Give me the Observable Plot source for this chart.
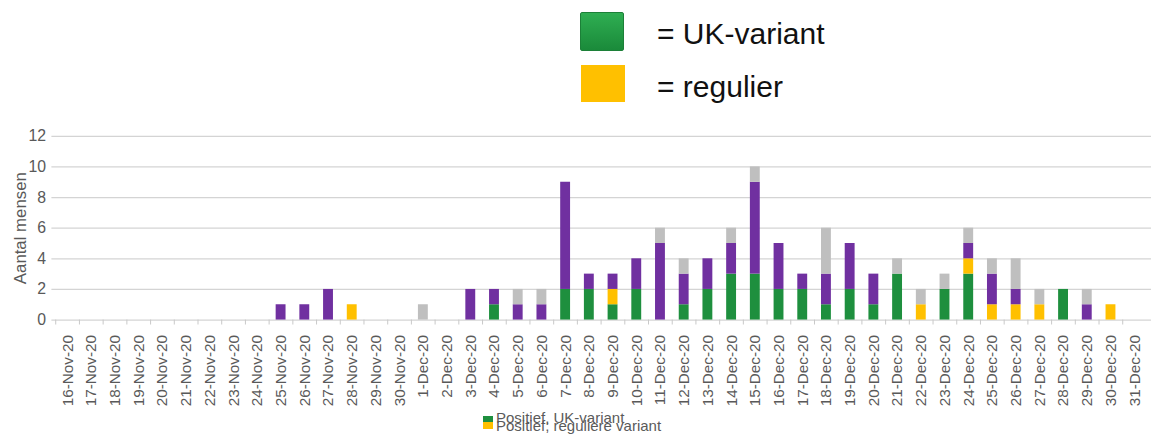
<!DOCTYPE html>
<html>
<head>
<meta charset="utf-8">
<script src="https://cdn.jsdelivr.net/npm/d3@7"></script>
<script src="https://cdn.jsdelivr.net/npm/@observablehq/plot@0.6"></script>
<style>
  html, body { margin: 0; padding: 0; background: #fff; overflow: hidden; }
  body { width: 1151px; height: 435px; position: relative; font-family: "Liberation Sans", Arial, sans-serif; }
  #top-legend { position: absolute; left: 0; top: 0; width: 1151px; height: 120px; }
  .sw { position: absolute; left: 580px; width: 44px; }
  .sw.uk { top: 12px; height: 39px; background: linear-gradient(#2fae52, #1a8a3a); border: 1px solid #1c8038; box-sizing: border-box; border-radius: 2px; }
  .sw.reg { top: 65px; height: 37px; left: 581px; background: #ffc000; }
  .lt { position: absolute; left: 657px; font-size: 30px; color: #111; line-height: 1; }
  #chart { position: absolute; left: 0; top: 120px; }
  #chart svg text { font-family: "Liberation Sans", Arial, sans-serif !important; }
  #chart g[aria-label="x-axis tick label"], #chart g[aria-label="x-axis tick label"] text { font-size: 15.5px !important; }
  #chart g[aria-label="y-axis tick label"], #chart g[aria-label="y-axis tick label"] text { font-size: 16px !important; }
  #chart g[aria-label="y-axis label"], #chart g[aria-label="y-axis label"] text { font-size: 17px !important; }
  #bottom-legend { position: absolute; left: 483px; top: 411px; width: 200px; height: 24px; font-size: 15px; color: #5a5a5a; }
  #bottom-legend .row { position: absolute; left: 13px; white-space: nowrap; line-height: 15px; }
  #bottom-legend .sq { position: absolute; left: 0; width: 10px; }
</style>
</head>
<body>
<div id="top-legend">
  <div class="sw uk"></div>
  <div class="lt" style="top:19px">= UK-variant</div>
  <div class="sw reg"></div>
  <div class="lt" style="top:72px">= regulier</div>
</div>
<div id="chart"></div>
<div id="bottom-legend">
  <div class="sq" style="top:5px;height:6px;background:#1e8f3e"></div>
  <div class="sq" style="top:11px;height:7px;background:#ffc000"></div>
  <div class="row" style="top:-1px">Positief, UK-variant</div>
  <div class="row" style="top:7px">Positief; reguliere variant</div>
</div>
<script>
const dates = [
  "16-Nov-20","17-Nov-20","18-Nov-20","19-Nov-20","20-Nov-20","21-Nov-20","22-Nov-20","23-Nov-20",
  "24-Nov-20","25-Nov-20","26-Nov-20","27-Nov-20","28-Nov-20","29-Nov-20","30-Nov-20",
  "1-Dec-20","2-Dec-20","3-Dec-20","4-Dec-20","5-Dec-20","6-Dec-20","7-Dec-20","8-Dec-20",
  "9-Dec-20","10-Dec-20","11-Dec-20","12-Dec-20","13-Dec-20","14-Dec-20","15-Dec-20","16-Dec-20",
  "17-Dec-20","18-Dec-20","19-Dec-20","20-Dec-20","21-Dec-20","22-Dec-20","23-Dec-20","24-Dec-20",
  "25-Dec-20","26-Dec-20","27-Dec-20","28-Dec-20","29-Dec-20","30-Dec-20","31-Dec-20"
];
const seriesNames = ["Positief, UK-variant", "Positief; reguliere variant", "Positief, overig", "Onbekend"];
const seriesColors = ["#1e8f3e", "#ffc000", "#7030a0", "#bfbfbf"];
//                 16 Nov ............................ 30 Nov | 1 Dec ........................................................... 31 Dec
const ukVariant   = [0,0,0,0,0,0,0,0,0,0,0,0,0,0,0,  0,0,0,1,0,0,2,2,1,2,0,1,2,3,3,2,2,1,2,1,3,0,2,3,0,0,0,2,0,0,0];
const regulier    = [0,0,0,0,0,0,0,0,0,0,0,0,1,0,0,  0,0,0,0,0,0,0,0,1,0,0,0,0,0,0,0,0,0,0,0,0,1,0,1,1,1,1,0,0,1,0];
const overig      = [0,0,0,0,0,0,0,0,0,1,1,2,0,0,0,  0,0,2,1,1,1,7,1,1,2,5,2,2,2,6,3,1,2,3,2,0,0,0,1,2,1,0,0,1,0,0];
const onbekend    = [0,0,0,0,0,0,0,0,0,0,0,0,0,0,0,  1,0,0,0,1,1,0,0,0,0,1,1,0,1,1,0,0,3,0,0,1,1,1,1,1,2,1,0,1,0,0];
const yTicks = [0, 2, 4, 6, 8, 10, 12];

const seriesValues = [ukVariant, regulier, overig, onbekend];
const data = [];
seriesValues.forEach((vals, s) => {
  vals.forEach((v, i) => data.push({date: dates[i], series: seriesNames[s], value: v}));
});

const font = "Liberation Sans, Arial, sans-serif";
const chart = Plot.plot({
  width: 1165,
  height: 292,
  marginTop: 16,
  marginBottom: 90,
  marginLeft: 52,
  marginRight: 0,
  style: {fontFamily: font, fontSize: "14px", color: "#595959", background: "transparent", overflow: "visible"},
  x: {type: "band", domain: dates, paddingInner: 0.58, paddingOuter: 0.29},
  y: {domain: [0, 12], ticks: yTicks},
  color: {domain: seriesNames, range: seriesColors},
  marks: [
    Plot.gridY(yTicks, {stroke: "#d4d4d4", strokeOpacity: 1, strokeWidth: 1.3}),
    Plot.axisY({ticks: yTicks, tickSize: 0, tickPadding: 6, label: "Aantal mensen", labelAnchor: "center", labelArrow: "none", labelOffset: 38}),
    Plot.barY(data, {x: "date", y: "value", fill: "series"}),
    Plot.axisX({tickSize: 5, text: null, dx: -12.1, stroke: "#c8c8c8", label: null}),
    Plot.axisX({tickSize: 0, tickRotate: -90, tickPadding: 15, label: null})
  ]
});
document.getElementById("chart").appendChild(chart);
</script>
</body>
</html>
